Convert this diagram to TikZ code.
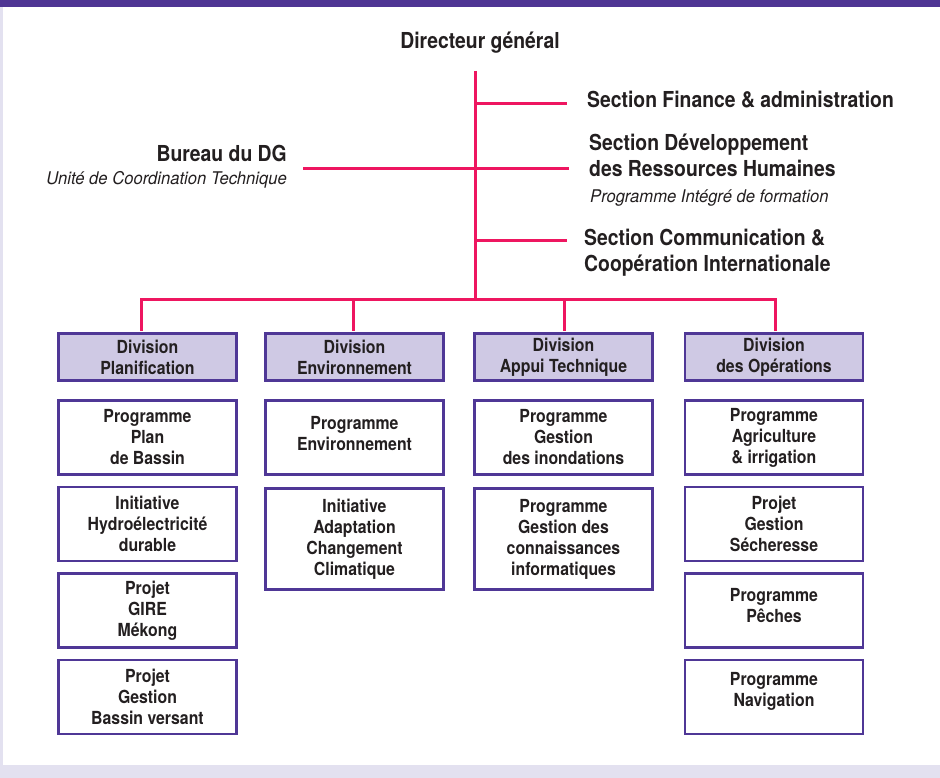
\documentclass[tikz,border=0pt]{standalone}
\usepackage{fontspec}
\setmainfont{TeX Gyre Heros}[FakeStretch=0.88]
\newfontfamily\subitfont{TeX Gyre Heros}[FakeStretch=0.95]
\definecolor{bandlav}{HTML}{E3E1F0}
\definecolor{topbar}{HTML}{4F3594}
\definecolor{boxline}{HTML}{4F3796}
\definecolor{divfill}{HTML}{CFC9E4}
\definecolor{linkpink}{HTML}{EE1660}
\definecolor{txt}{HTML}{231F20}
\begin{document}
\begin{tikzpicture}[x=1pt,y=-1pt,
  link/.style={draw=linkpink,line width=3pt},
  divbox/.style={draw=boxline,line width=2.6pt,fill=divfill,minimum width=178pt,minimum height=47pt,inner sep=0pt,align=center,font=\fontsize{18}{21}\selectfont\bfseries,text=txt},
  progbox/.style={draw=boxline,line width=2.6pt,fill=white,minimum width=178pt,inner sep=0pt},
  boxtext/.style={align=center,font=\fontsize{18}{21}\selectfont\bfseries,text=txt,inner sep=0pt},
  headtext/.style={font=\fontsize{22}{26}\selectfont\bfseries,text=txt,inner sep=0pt},
  subtext/.style={font=\subitfont\fontsize{17.5}{20}\selectfont\itshape,text=txt,inner sep=0pt}]
\useasboundingbox (0,0) rectangle (940,778);
% background
\fill[bandlav] (0,0) rectangle (940,778);
\fill[white] (3,7) rectangle (940,765);
\fill[topbar] (0,0) rectangle (940,7);

% top texts
\node[headtext,anchor=base] (dg) at (480,49) {Directeur général};
\node[headtext,anchor=base west] (fin) at (587,108) {Section Finance \& administration};
\node[headtext,anchor=base west] (dev) at (589,151) {Section Développement};
\node[headtext,anchor=base west] (dev2) at (589,177) {des Ressources Humaines};
\node[subtext,anchor=base west] (pif) at (590,203) {Programme Intégré de formation};
\node[headtext,anchor=base west] (com) at (584,246) {Section Communication \&};
\node[headtext,anchor=base west] (com2) at (584,272) {Coopération Internationale};
\node[headtext,anchor=base east] (bur) at (287,162) {Bureau du DG};
\node[subtext,anchor=base east] (uct) at (287,185) {Unité de Coordination Technique};

% divisions
\node[divbox] (d1) at (147.5,357) {Division\\Planification};
\node[divbox] (d2) at (354.5,357) {Division\\Environnement};
\node[divbox] (d3) at (563.5,357) {Division\\Appui Technique};
\node[divbox] (d4) at (774,357) {Division\\des Opérations};

% column 1
\node[progbox,minimum height=74pt] (p11) at (147.5,437.5) {};
\node[boxtext] at (p11.center) {Programme\\Plan\\de Bassin};
\node[progbox,minimum height=74pt] (p12) at (147.5,524) {};
\node[boxtext] at (p12.center) {Initiative\\Hydroélectricité\\durable};
\node[progbox,minimum height=74pt] (p13) at (147.5,610.5) {};
\node[boxtext] at (p13.center) {Projet\\GIRE\\Mékong};
\node[progbox,minimum height=74pt] (p14) at (147.5,697) {};
\node[boxtext] at (p14.center) {Projet\\Gestion\\Bassin versant};

% column 2
\node[progbox,minimum height=74pt] (p21) at (354.5,437.5) {};
\node[boxtext] at ([yshift=4pt]p21.center) {Programme\\Environnement};
\node[progbox,minimum height=101pt] (p22) at (354.5,539) {};
\node[boxtext] at (p22.center) {Initiative\\Adaptation\\Changement\\Climatique};

% column 3
\node[progbox,minimum height=74pt] (p31) at (563.5,437.5) {};
\node[boxtext] at (p31.center) {Programme\\Gestion\\des inondations};
\node[progbox,minimum height=101pt] (p32) at (563.5,539) {};
\node[boxtext] at (p32.center) {Programme\\Gestion des\\connaissances\\informatiques};

% column 4
\node[progbox,minimum height=74pt] (p41) at (774,437.5) {};
\node[boxtext] at (p41.center) {Programme\\Agriculture\\\& irrigation};
\node[progbox,minimum height=74pt] (p42) at (774,524) {};
\node[boxtext] at (p42.center) {Projet\\Gestion\\Sécheresse};
\node[progbox,minimum height=74pt] (p43) at (774,610.5) {};
\node[boxtext] at ([yshift=5pt]p43.center) {Programme\\Pêches};
\node[progbox,minimum height=74pt] (p44) at (774,697) {};
\node[boxtext] at ([yshift=6pt]p44.center) {Programme\\Navigation};

% connectors
\coordinate (vtop) at (475,71);
\coordinate (hub) at (475,299);
\coordinate (bF) at (475,104);
\coordinate (eF) at (567,104);
\coordinate (bB) at (303,169);
\coordinate (eB) at (569,169);
\coordinate (bC) at (475,241);
\coordinate (eC) at (567,241);
\coordinate (dr1) at (141,299);
\coordinate (dr2) at (353,299);
\coordinate (dr3) at (564,299);
\coordinate (dr4) at (775,299);
\draw[link] (vtop) -- (hub);
\draw[link] (bF) -- (eF);
\draw[link] (bB) -- (eB);
\draw[link] (bC) -- (eC);
\draw[link] ([yshift=1.3pt]d1.north -| dr1) -- (dr1) -- (dr4) -- ([yshift=1.3pt]d4.north -| dr4);
\draw[link] (dr2) -- ([yshift=1.3pt]d2.north -| dr2);
\draw[link] (dr3) -- ([yshift=1.3pt]d3.north -| dr3);
\end{tikzpicture}
\end{document}
